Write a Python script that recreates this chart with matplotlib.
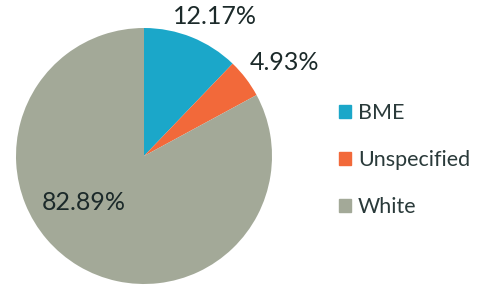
import matplotlib
matplotlib.use("Agg")
import matplotlib.pyplot as plt
from matplotlib.patches import Patch

categories = ["BME", "Unspecified", "White"]
values = [12.17, 4.93, 82.89]
colors = ["#1ba7c9", "#f2693a", "#a3a998"]
label_pos = [(0.555, 1.086), (1.10, 0.727), (-0.47, -0.36)]

plt.rcParams['font.family'] = ['Lato', 'DejaVu Sans']
W, H = 488, 289
fig = plt.figure(figsize=(W/100, H/100), dpi=100)
cx, cy, r = 144, 156, 128
ax = fig.add_axes([(cx-r)/W, (H-cy-r)/H, 2*r/W, 2*r/H])
wedges, texts, autotexts = ax.pie(values, colors=colors, startangle=90, counterclock=False,
                                  autopct=lambda p: f"{p:.2f}%", radius=1,
                                  wedgeprops=dict(linewidth=0))
for t, v, pos in zip(autotexts, values, label_pos):
    t.set_text(f"{v:.2f}%")
    t.set_position(pos)
    t.set_fontsize(18)
    t.set_color("#1c2a2a")
    t.set_ha("center"); t.set_va("center")
ax.set_xlim(-1, 1); ax.set_ylim(-1, 1)
ax.set_aspect('equal')
ax.axis('off')

handles = [Patch(color=c) for c in colors]
fig.legend(handles, categories, loc="center left", bbox_to_anchor=(339/W, 1-160/H),
           frameon=False, fontsize=15.5, handlelength=0.56, handleheight=0.56,
           handletextpad=0.33, labelspacing=1.25, labelcolor="#2a3a3a",
           borderpad=0, borderaxespad=0)
fig.savefig("out.png", dpi=100)
